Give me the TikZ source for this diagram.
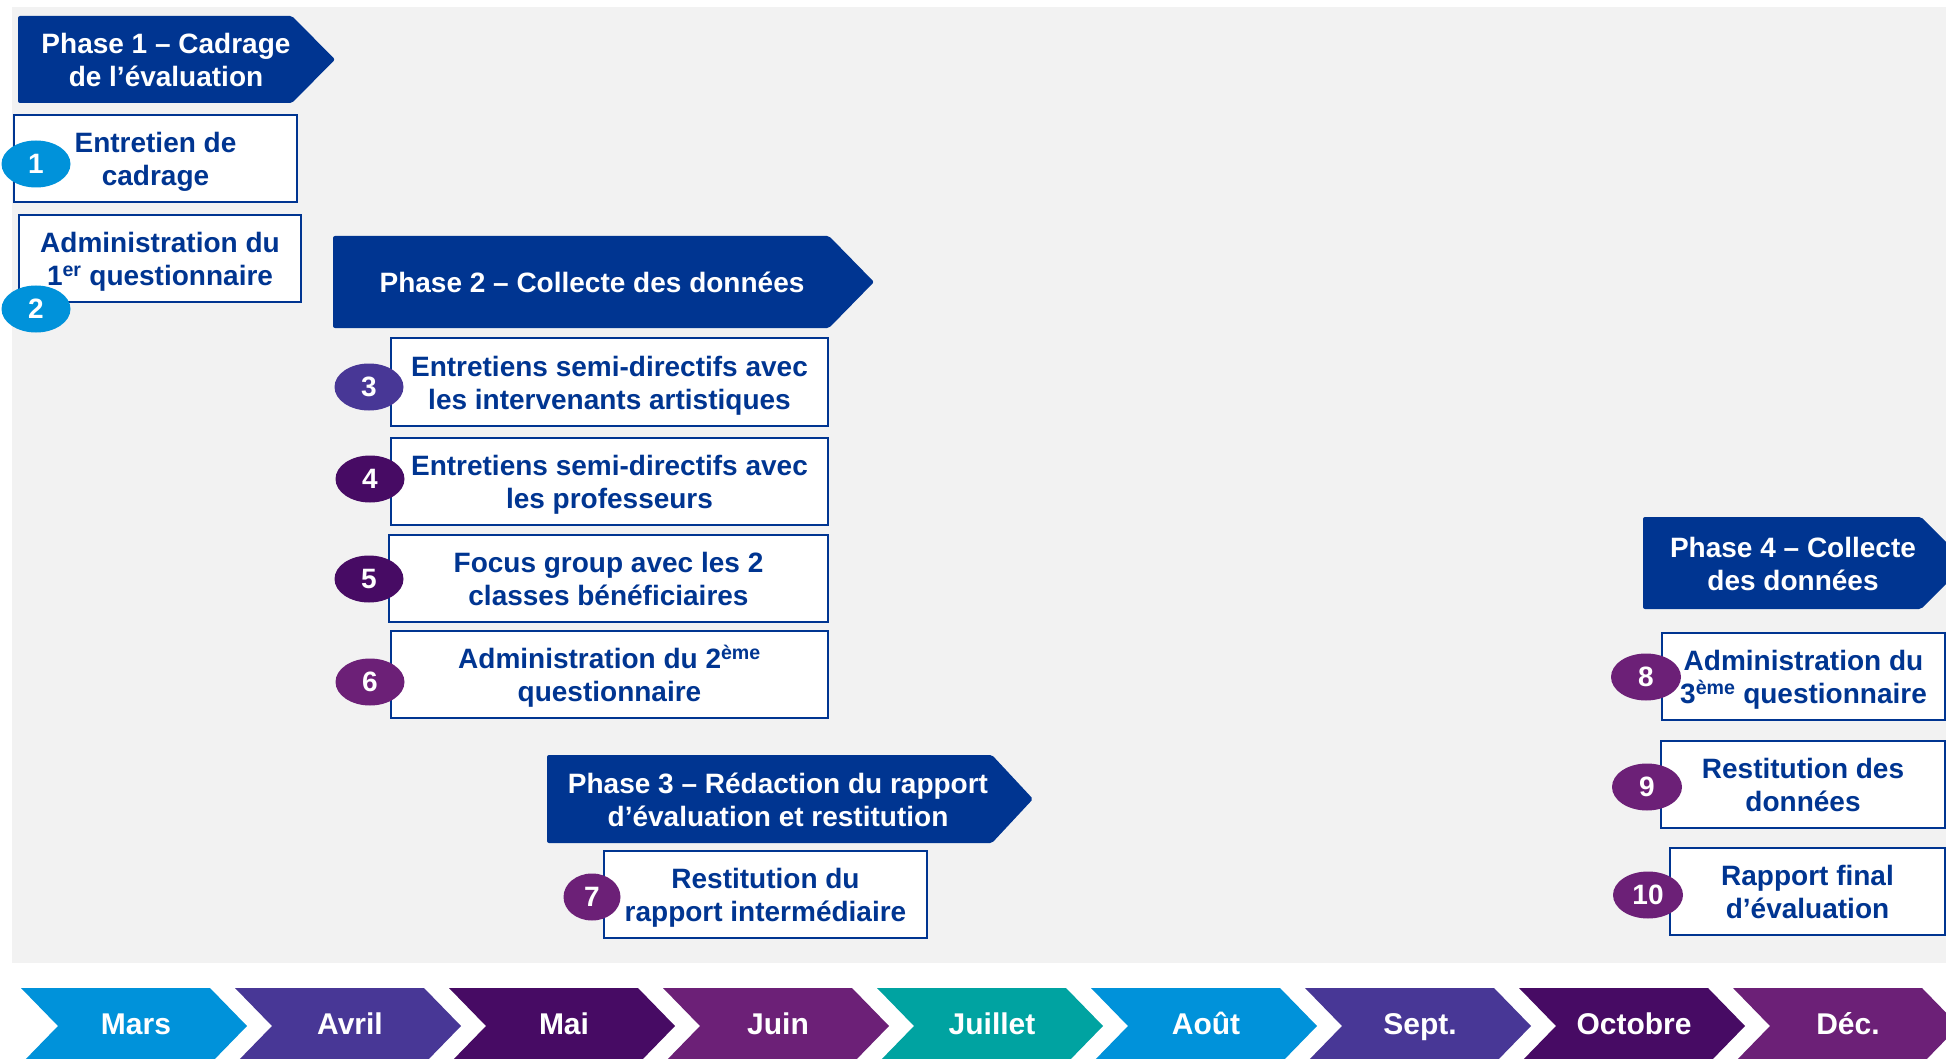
\documentclass[tikz,border=0pt]{standalone}
\usepackage{fontspec}
\setmainfont{Liberation Sans}
\usetikzlibrary{shapes.geometric}
\definecolor{darkblue}{RGB}{0,53,145}
\definecolor{bggray}{RGB}{242,242,242}
\definecolor{lightblue}{RGB}{0,146,218}
\definecolor{purpleblue}{RGB}{72,55,150}
\definecolor{darkpurple}{RGB}{71,11,100}
\definecolor{plum}{RGB}{108,32,119}
\definecolor{tealc}{RGB}{0,163,161}
\newcommand{\ls}{\rule[-6pt]{0pt}{33pt}}
\newcommand{\mainfs}{\bfseries\fontsize{28}{33}\selectfont}
\newcommand{\monthfs}{\bfseries\fontsize{30}{36}\selectfont}
\begin{document}
\begin{tikzpicture}[x=1pt,y=-1pt,
  taskbox/.style={draw=darkblue,line width=2pt,fill=white,align=center,text=darkblue,font=\mainfs,inner sep=0pt},
  numoval/.style={ellipse,minimum width=69pt,minimum height=47pt,inner sep=0pt,text=white,font=\mainfs},
  phaseshape/.style={fill=darkblue,rounded corners=2pt},
  phasetext/.style={align=center,text=white,font=\mainfs,inner sep=0pt},
  monthtext/.style={text=white,font=\monthfs,anchor=base,inner sep=0pt}]
\clip (0,0) rectangle (1946,1059);
\fill[white] (0,0) rectangle (1946,1059);
\fill[bggray] (12,7) rectangle (1946,963);

% Phase chevrons
\fill[phaseshape] (18,16) -- (292,16) -- (335,59.5) -- (292,103) -- (18,103) -- cycle;
\node[phasetext] (p1) at (166,59.5) {\ls Phase 1 – Cadrage\\\ls de l’évaluation};

\fill[phaseshape] (333,236) -- (829,236) -- (874,282) -- (829,328) -- (333,328) -- cycle;
\node[phasetext] (p2) at (592,282) {\ls Phase 2 – Collecte des données};

\fill[phaseshape] (547,755) -- (992,755) -- (1033,799) -- (992,843) -- (547,843) -- cycle;
\node[phasetext] (p3) at (778,799) {\ls Phase 3 – Rédaction du rapport\\\ls d’évaluation et restitution};

\fill[phaseshape] (1643,517) -- (1921,517) -- (1967,563) -- (1921,609) -- (1643,609) -- cycle;
\node[phasetext] (p4) at (1793,563) {\ls Phase 4 – Collecte\\\ls des données};

% Task boxes
\node[taskbox,minimum width=283pt,minimum height=87pt] (b1) at (155.5,158.5) {\ls Entretien de\\\ls cadrage};
\node[taskbox,minimum width=282pt,minimum height=87pt] (b2) at (160,258.5) {\ls Administration du\\\ls 1\textsuperscript{er} questionnaire};
\node[taskbox,minimum width=437pt,minimum height=88pt] (b3) at (609.5,382) {\ls Entretiens semi-directifs avec\\\ls les intervenants artistiques};
\node[taskbox,minimum width=437pt,minimum height=87pt] (b4) at (609.5,481.5) {\ls Entretiens semi-directifs avec\\\ls les professeurs};
\node[taskbox,minimum width=439pt,minimum height=87pt] (b5) at (608.5,578.5) {\ls Focus group avec les 2\\\ls classes bénéficiaires};
\node[taskbox,minimum width=437pt,minimum height=87pt] (b6) at (609.5,674.5) {\ls Administration du 2\textsuperscript{ème}\\\ls questionnaire};
\node[taskbox,minimum width=323pt,minimum height=87pt] (b7) at (765.5,894.5) {\ls Restitution du\\\ls rapport intermédiaire};
\node[taskbox,minimum width=283pt,minimum height=87pt] (b8) at (1803.5,676.5) {\ls Administration du\\\ls 3\textsuperscript{ème} questionnaire};
\node[taskbox,minimum width=284pt,minimum height=87pt] (b9) at (1803,784.5) {\ls Restitution des\\\ls données};
\node[taskbox,minimum width=275pt,minimum height=87pt] (b10) at (1807.5,891.5) {\ls Rapport final\\\ls d’évaluation};

% Number ovals
\node[numoval,fill=lightblue] (n1) at (36,164) {1};
\node[numoval,fill=lightblue] (n2) at (36,309) {2};
\node[numoval,fill=purpleblue] (n3) at (369,387) {3};
\node[numoval,fill=darkpurple] (n4) at (370,479) {4};
\node[numoval,fill=darkpurple] (n5) at (369,579) {5};
\node[numoval,fill=plum] (n6) at (370,682) {6};
\node[numoval,fill=plum,minimum width=57pt] (n7) at (592,897) {7};
\node[numoval,fill=plum,minimum width=70pt] (n8) at (1646,677) {8};
\node[numoval,fill=plum,minimum width=70pt] (n9) at (1647,787) {9};
\node[numoval,fill=plum,minimum width=70pt] (n10) at (1648,895) {10};

% Month chevrons
\foreach \i/\mname/\col in {0/Mars/lightblue,1/Avril/purpleblue,2/Mai/darkpurple,3/Juin/plum,4/Juillet/tealc,5/Août/lightblue,6/Sept./purpleblue,7/Octobre/darkpurple,8/Déc./plum}{
  \pgfmathsetmacro{\L}{21+214*\i}
  \fill[\col] (\L,988) -- ++(189,0) -- ++(37,38) -- ++(-37,38) -- ++(-189,0) -- ++(37,-38) -- cycle;
  \node[monthtext] (m\i) at ({\L+115},1034) {\mname};
}
\end{tikzpicture}
\end{document}
